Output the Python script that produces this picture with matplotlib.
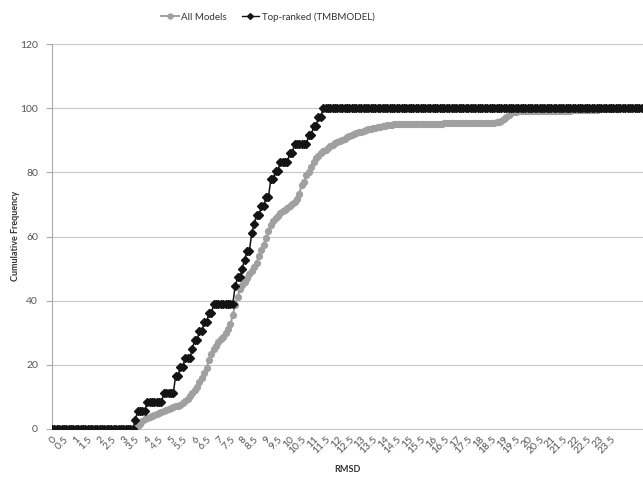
import numpy as np
import matplotlib
matplotlib.use("Agg")
import matplotlib.pyplot as plt
from matplotlib.lines import Line2D

plt.rcParams['font.family'] = ['Lato', 'DejaVu Sans']

# ---------------- data ----------------
# RMSD categories (0.1 steps)
rmsd_categories = np.round(np.arange(0.0, 24.85, 0.1), 1)

# x tick labels shown on the axis
tick_labels = ["0", "0.5", "1", "1.5", "2", "2.5", "3", "3.5", "4", "4.5", "5", "5.5",
               "6", "6.5", "7", "7.5", "8", "8.5", "9", "9.5", "10", "10.5", "11", "11.5",
               "12", "12.5", "13", "13.5", "14", "14.5", "15", "15.5", "16", "16.5", "17", "17.5",
               "18", "18.5", "19", "19.5", "20", "20.5", "21", "21.5", "22", "22.5", "23", "23.5"]

# All Models cumulative frequency (%), read per 0.1 category
all_models_0_to_3_4 = [0.0] * 35
all_models_from_3_5 = [
    0.3, 0.9, 1.6, 2.4, 3.0, 3.5, 3.8, 4.1, 4.4, 4.8,          # 3.5-4.4
    5.1, 5.3, 5.6, 5.9, 6.2, 6.5, 6.8, 7.1, 7.3, 7.6,          # 4.5-5.4
    8.1, 8.7, 9.4, 10.4, 11.3, 12.2, 13.1, 14.5, 15.8, 17.4,   # 5.5-6.4
    19.0, 21.4, 23.4, 24.8, 26.0, 27.0, 27.9, 28.8, 29.9, 31.2,  # 6.5-7.4
    32.6, 35.5, 38.5, 41.0, 43.5, 44.8, 45.8, 47.1, 48.4, 49.4,  # 7.5-8.4
    50.4, 51.8, 54.0, 55.7, 57.5, 59.6, 61.8, 63.5, 64.8, 65.8,  # 8.5-9.4
    66.5, 67.3, 67.8, 68.4, 68.9, 69.4, 70.0, 70.6, 71.6, 73.4,  # 9.5-10.4
    76.0, 77.0, 79.2, 80.0, 81.8, 83.2, 84.5, 85.2, 85.9, 86.6,  # 10.5-11.4
    87.1, 87.6, 88.1, 88.6, 89.0, 89.4, 89.8, 90.2, 90.5, 90.9,  # 11.5-12.4
    91.3, 91.7, 92.0, 92.3, 92.5, 92.7, 92.9, 93.1, 93.4, 93.6,  # 12.5-13.4
    93.8, 93.9, 94.1, 94.2, 94.3, 94.5, 94.6, 94.8, 94.9, 95.0,  # 13.5-14.4
    95.1, 95.1, 95.2, 95.2, 95.2, 95.2, 95.2, 95.2, 95.2, 95.2,  # 14.5-15.4
    95.2, 95.2, 95.2, 95.2, 95.2, 95.2, 95.2, 95.2, 95.2, 95.2,  # 15.5-16.4
    95.3, 95.3, 95.3, 95.3, 95.3, 95.3, 95.3, 95.3, 95.3, 95.3,  # 16.5-17.4
    95.3, 95.3, 95.3, 95.4, 95.4, 95.4, 95.4, 95.4, 95.4, 95.5,  # 17.5-18.4
    95.5, 95.5, 95.6, 95.6, 95.9, 96.5, 97.2, 97.9, 98.4, 98.7,  # 18.5-19.4
    98.9, 99.0, 99.0, 99.0, 99.0, 99.0, 99.0, 99.0, 99.0, 99.1,  # 19.5-20.4
    99.1, 99.1, 99.1, 99.1, 99.1, 99.1, 99.1, 99.1, 99.1, 99.1,  # 20.5-21.4
    99.2, 99.2, 99.2, 99.2, 99.3, 99.3, 99.3, 99.3, 99.3, 99.4,  # 21.5-22.4
    99.4, 99.4, 99.5, 99.5, 99.5, 99.6, 99.6, 99.6, 99.6, 99.7,  # 22.5-23.4
    99.7, 99.7, 99.8, 100.0, 100.0, 100.0, 100.0, 100.0, 100.0, 100.0,  # 23.5-24.4
    100.0, 100.0, 100.0, 100.0,                                  # 24.5-24.8
]
all_models = np.array(all_models_0_to_3_4 + all_models_from_3_5)

# Top-ranked (TMBMODEL): number of targets reached at each RMSD step
n_targets = 36
top_break_rmsd = [3.5, 3.6, 4.0, 4.7, 5.2, 5.4, 5.6, 5.9, 6.0, 6.2, 6.4, 6.6, 6.8,
                  7.7, 7.8, 8.0, 8.1, 8.2, 8.4, 8.5, 8.6, 8.8, 9.0, 9.2, 9.4, 9.6,
                  10.0, 10.2, 10.8, 11.0, 11.2, 11.4]
top_break_count = [1, 2, 3, 4, 6, 7, 8, 9, 10, 11, 12, 13, 14,
                   16, 17, 18, 19, 20, 22, 23, 24, 25, 26, 28, 29, 30,
                   31, 32, 33, 34, 35, 36]

# cumulative frequency of top-ranked models at each category
idx = np.searchsorted(np.array(top_break_rmsd), rmsd_categories + 1e-9, side='right')
counts = np.concatenate([[0], top_break_count])[idx]
top_ranked = counts / n_targets * 100.0

# ---------------- figure ----------------
W, H = 643, 478
fig = plt.figure(figsize=(W / 100, H / 100), dpi=100)
ax = fig.add_axes([52 / W, 1 - 429 / H, (643 - 52) / W, (429 - 44) / H])

gray = '#a0a0a0'
black = '#141414'
ax.plot(rmsd_categories, all_models, color=gray, lw=1.5, marker='o', ms=4.2,
        mec=gray, mfc=gray, zorder=3, label='All Models')
ax.plot(rmsd_categories, top_ranked, color=black, lw=1.1, marker='D', ms=3.6,
        mec=black, mfc=black, zorder=4, label='Top-ranked (TMBMODEL)')

ax.set_xlim(0.0, 24.85)
ax.set_ylim(0, 120)
ax.set_yticks(np.arange(0, 121, 20))
ax.yaxis.grid(True, color='#c8c8c8', lw=0.8)
ax.set_axisbelow(True)

tick_pos = [float(t) for t in tick_labels]
ax.set_xticks(tick_pos)
ax.set_xticklabels(tick_labels, rotation=45, ha='right', rotation_mode='anchor',
                   fontsize=7.5, color='#555555')
ax.tick_params(axis='x', length=0, pad=4)
ax.tick_params(axis='y', length=4, color='#aaaaaa', labelsize=7.5, labelcolor='#555555', pad=6)

for s in ['top', 'right']:
    ax.spines[s].set_visible(False)
ax.spines['left'].set_color('#aaaaaa')
ax.spines['bottom'].set_color('#c8c8c8')

fig.text(16 / W, 1 - 236 / H, 'Cumulative Frequency', rotation=90, ha='center', va='center',
         fontsize=6.5, fontweight='bold', color='#333333')
fig.text(347 / W, 1 - 470 / H, 'RMSD', ha='center', va='center',
         fontsize=6.5, fontweight='bold', color='#333333')

handles = [Line2D([], [], color=gray, lw=1.4, marker='o', ms=3.6),
           Line2D([], [], color=black, lw=1.0, marker='D', ms=3.0)]
fig.legend(handles, ['All Models', 'Top-ranked (TMBMODEL)'], loc='center',
           bbox_to_anchor=(268 / W, 1 - 17 / H), ncol=2, frameon=False, fontsize=7,
           handlelength=1.8, handletextpad=0.3, columnspacing=1.5, labelcolor='#333333')

fig.savefig('out.png', dpi=100)
